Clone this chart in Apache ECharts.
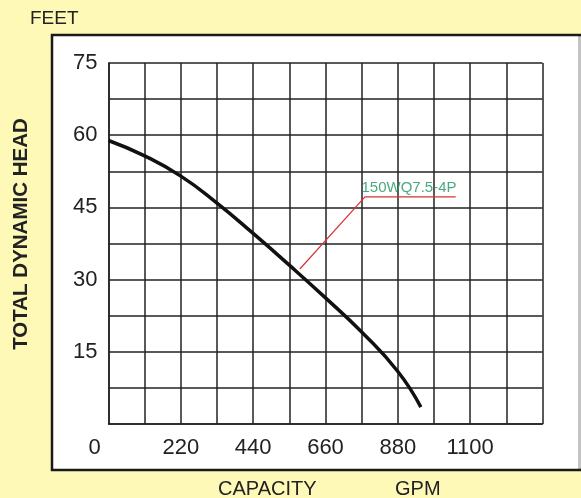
<!DOCTYPE html>
<html>
<head>
<meta charset="utf-8">
<script src="https://cdn.jsdelivr.net/npm/echarts@6/dist/echarts.min.js"></script>
<style>
html,body{margin:0;padding:0;background:#FEF9B7;}
#c{width:581px;height:498px;}
</style>
</head>
<body>
<div id="c"></div>
<script>
// Data
var capacityGPM = [0, 110, 220, 330, 440, 550, 660, 770, 880, 950];
var headFeet    = [58.9, 55.7, 51.5, 45.9, 39.6, 33.0, 26.2, 19.1, 10.9, 3.5];
var curveName = '150WQ7.5-4P';
var leaderGPM  = [582, 780, 1056];
var leaderFeet = [32.2, 47.2, 47.2];
var labelPos = [914, 49.1];
var xTickLabels = [0, 220, 440, 660, 880, 1100];
var yTickLabels = [15, 30, 45, 60, 75];

var font = 'Liberation Sans, Arial, sans-serif';
var chart = echarts.init(document.getElementById('c'), null, {renderer: 'canvas'});

function pairs(a, b) { return a.map(function (v, i) { return [v, b[i]]; }); }

chart.setOption({
  backgroundColor: '#FEF9B7',
  animation: false,
  graphic: [
    {type: 'rect', z: -10, silent: true,
     shape: {x: 52, y: 35, width: 528, height: 435},
     style: {fill: '#ffffff', stroke: '#1a1a1a', lineWidth: 2.5}},
    {type: 'rect', z: -9, silent: true,
     shape: {x: 579, y: 36.5, width: 2, height: 432},
     style: {fill: '#ffffff'}},
    {type: 'rect', z: -8, silent: true,
     shape: {x: 579.5, y: 36.5, width: 1, height: 432},
     style: {fill: '#888888'}},
    {type: 'text', left: 30, top: 9, silent: true,
     style: {text: 'FEET', fill: '#222', font: '19px ' + font}},
    {type: 'text', left: 218, top: 479, silent: true,
     style: {text: 'CAPACITY', fill: '#222', font: '20px ' + font}},
    {type: 'text', left: 395, top: 479, silent: true,
     style: {text: 'GPM', fill: '#222', font: '20px ' + font}},
    {type: 'text', x: 21.5, y: 234, rotation: Math.PI / 2, silent: true,
     style: {text: 'TOTAL DYNAMIC HEAD', fill: '#222', font: 'bold 20.5px ' + font,
             align: 'center', verticalAlign: 'middle'}}
  ],
  grid: {left: 108.5, right: 38.5, top: 63, bottom: 74, containLabel: false},
  xAxis: {
    type: 'value', min: 0, max: 1320, interval: 110,
    axisLine: {show: true, lineStyle: {color: '#222', width: 1.5}},
    axisTick: {show: false},
    splitLine: {show: true, lineStyle: {color: '#222', width: 1.5}},
    axisLabel: {
      margin: 13, color: '#222', fontSize: 22, fontFamily: font,
      showMinLabel: true, showMaxLabel: true,
      formatter: function (v) {
        if (xTickLabels.indexOf(v) < 0) return '';
        if (v === 0) return '{z|0}';
        return String(v);
      },
      rich: {z: {fontSize: 22, fontFamily: font, color: '#222', padding: [0, 28, 0, 0]}}
    }
  },
  yAxis: {
    type: 'value', min: 0, max: 75, interval: 7.5,
    axisLine: {show: true, lineStyle: {color: '#222', width: 1.5}},
    axisTick: {show: false},
    splitLine: {show: true, lineStyle: {color: '#222', width: 1.5}},
    axisLabel: {
      margin: 11, color: '#222', fontSize: 22, fontFamily: font,
      showMaxLabel: true,
      formatter: function (v) {
        return yTickLabels.indexOf(v) < 0 ? '' : String(v);
      }
    }
  },
  series: [
    {type: 'line', data: pairs(capacityGPM, headFeet), smooth: 0.5, symbol: 'none',
     lineStyle: {color: '#111', width: 3.5}, z: 5},
    {type: 'line', data: pairs(leaderGPM, leaderFeet), symbol: 'none',
     lineStyle: {color: '#d83333', width: 1.2}, z: 4},
    {type: 'scatter', data: [labelPos], symbolSize: 0, z: 6,
     label: {show: true, position: 'inside', formatter: curveName,
             color: '#1e9460', fontSize: 15, fontFamily: font}}
  ]
});
</script>
</body>
</html>
